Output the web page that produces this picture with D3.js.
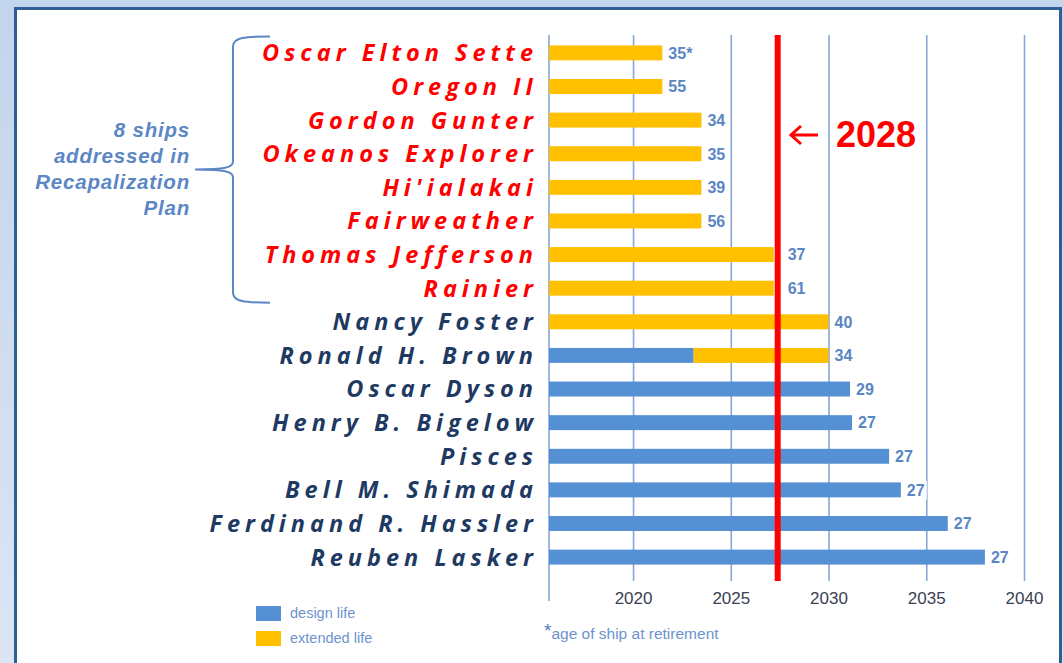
<!DOCTYPE html>
<html>
<head>
<meta charset="utf-8">
<script src="https://cdn.jsdelivr.net/npm/d3@7"></script>
<style>
  body { margin: 0; background: #fff; }
  svg { display: block; }
</style>
</head>
<body>
<div id="chart"></div>
<script>
// Ships, top to bottom
var ships = ["Oscar Elton Sette", "Oregon II", "Gordon Gunter", "Okeanos Explorer",
  "Hi'ialakai", "Fairweather", "Thomas Jefferson", "Rainier", "Nancy Foster",
  "Ronald H. Brown", "Oscar Dyson", "Henry B. Bigelow", "Pisces", "Bell M. Shimada",
  "Ferdinand R. Hassler", "Reuben Lasker"];

// first 8 ships are in the recapitalization plan
var recapCount = 8;

// end year of design life (blue) and extended life (yellow), null = none
var designEnd = [null, null, null, null, null, null, null, null, null,
  2023.1, 2031.1, 2031.2, 2033.1, 2033.7, 2036.1, 2038.0];
var extendedEnd = [2021.5, 2021.5, 2023.5, 2023.5, 2023.5, 2023.5, 2027.2, 2027.2,
  2030.0, 2030.0, null, null, null, null, null, null];

// age of ship at retirement
var ages = ["35*", "55", "34", "35", "39", "56", "37", "61", "40", "34",
  "29", "27", "27", "27", "27", "27"];

var startYear = 2015.7;
var tickYears = [2020, 2025, 2030, 2035, 2040];
var cutoffYear = 2027.4;
var cutoffLabel = "2028";

var noteLines = ["8 ships", "addressed in", "Recapalization", "Plan"];

var W = 1063, H = 663;
var blue = "#5590d5", yellow = "#ffc000", labelBlue = "#5a86c4";

var svg = d3.select("#chart").append("svg")
    .attr("width", W)
    .attr("height", H);

// background frame
var defs = svg.append("defs");
var grad = defs.append("linearGradient").attr("id", "bg")
    .attr("x1", 0).attr("y1", 0).attr("x2", 0).attr("y2", 1);
grad.append("stop").attr("offset", "0%").attr("stop-color", "#c3d4ed");
grad.append("stop").attr("offset", "100%").attr("stop-color", "#dbe5f4");
svg.append("rect").attr("width", W).attr("height", H).attr("fill", "url(#bg)");
svg.append("rect")
    .attr("x", 15.5).attr("y", 8.5)
    .attr("width", 1045).attr("height", 700)
    .attr("fill", "#fff")
    .attr("stroke", "#2f5e95")
    .attr("stroke-width", 3);

// scales
var x = d3.scaleLinear()
    .domain([startYear, 2040])
    .range([549, 1024]);

var y = d3.scaleBand()
    .domain(ships)
    .range([36, 574])
    .paddingInner(0.555)
    .paddingOuter(0.28);

var gridTop = 35, gridBottom = 581;

// gridlines + tick labels
var axis = svg.append("g")
    .attr("transform", "translate(0," + gridBottom + ")")
    .call(d3.axisBottom(x).tickValues(tickYears).tickFormat(d3.format("d"))
      .tickSize(-(gridBottom - gridTop)).tickPadding(11));
axis.select(".domain").remove();
axis.selectAll("line")
    .attr("stroke", "#86a6d6")
    .attr("stroke-width", 1.6);
axis.selectAll("text")
    .attr("fill", "#3a4153")
    .style("font-family", "Liberation Sans, Arial, sans-serif")
    .style("font-size", "17px");

// left axis line
svg.append("line")
    .attr("x1", x(startYear)).attr("x2", x(startYear))
    .attr("y1", gridTop).attr("y2", 601)
    .attr("stroke", "#86a6d6")
    .attr("stroke-width", 1.6);

// bars
var rows = ships.map(function(s, i) {
  return {ship: s, design: designEnd[i], extended: extendedEnd[i], age: ages[i], i: i};
});

svg.selectAll(".design")
    .data(rows.filter(function(d) { return d.design != null; }))
  .enter().append("rect")
    .attr("class", "design")
    .attr("x", x(startYear))
    .attr("y", function(d) { return y(d.ship); })
    .attr("width", function(d) { return x(d.design) - x(startYear); })
    .attr("height", y.bandwidth())
    .attr("fill", blue);

svg.selectAll(".extended")
    .data(rows.filter(function(d) { return d.extended != null; }))
  .enter().append("rect")
    .attr("class", "extended")
    .attr("x", function(d) { return x(d.design != null ? d.design : startYear); })
    .attr("y", function(d) { return y(d.ship); })
    .attr("width", function(d) { return x(d.extended) - x(d.design != null ? d.design : startYear); })
    .attr("height", y.bandwidth())
    .attr("fill", yellow);

// cutoff line
var redW = 6;
svg.append("rect")
    .attr("x", x(cutoffYear) - redW / 2)
    .attr("y", gridTop)
    .attr("width", redW)
    .attr("height", gridBottom - gridTop)
    .attr("fill", "#ff0000");

// age labels with white box behind them
var labels = svg.selectAll(".age")
    .data(rows)
  .enter().append("g")
    .attr("class", "age")
    .attr("transform", function(d) {
      var end = Math.max(d.design || 0, d.extended || 0);
      var px = x(end) + 6;
      if (Math.abs(x(end) - x(cutoffYear)) < redW) px = x(cutoffYear) + redW / 2 + 7;
      return "translate(" + px + "," + (y(d.ship) + y.bandwidth() / 2) + ")";
    });
labels.append("text")
    .attr("dy", "0.36em")
    .attr("fill", labelBlue)
    .style("font-family", "Liberation Sans, Arial, sans-serif")
    .style("font-weight", "bold")
    .style("font-size", "16px")
    .text(function(d) { return d.age; });
labels.each(function() {
  var g = d3.select(this);
  var b = g.select("text").node().getBBox();
  g.insert("rect", "text")
    .attr("x", b.x - 2).attr("y", b.y - 1)
    .attr("width", b.width + 4).attr("height", b.height + 2)
    .attr("fill", "#fff");
});

// ship names
svg.selectAll(".ship")
    .data(rows)
  .enter().append("text")
    .attr("class", "ship")
    .attr("x", 538)
    .attr("y", function(d) { return y(d.ship) + y.bandwidth() / 2; })
    .attr("dy", "0.36em")
    .attr("text-anchor", "end")
    .attr("fill", function(d) { return d.i < recapCount ? "#ff0000" : "#1e3a62"; })
    .style("font-family", "Open Sans, sans-serif")
    .style("font-weight", "bold")
    .style("font-style", "italic")
    .style("font-size", "23.5px")
    .style("letter-spacing", "5px")
    .text(function(d) { return d.ship; });

// brace around the recap ships
var braceTop = y(ships[0]) - 9, braceBot = y(ships[recapCount - 1]) + y.bandwidth() + 7;
var bx = 233, tipY = (braceTop + braceBot) / 2;
svg.append("path")
    .attr("d", "M270," + braceTop + " C245," + braceTop + " " + bx + "," + (braceTop + 1) + " " + bx + "," + (braceTop + 10) +
      " L" + bx + "," + (tipY - 8) + " C" + bx + "," + (tipY - 2) + " 225," + tipY + " 195," + tipY +
      " C225," + tipY + " " + bx + "," + (tipY + 2) + " " + bx + "," + (tipY + 8) +
      " L" + bx + "," + (braceBot - 10) + " C" + bx + "," + (braceBot - 1) + " 245," + braceBot + " 270," + braceBot)
    .attr("fill", "none")
    .attr("stroke", "#5b87c5")
    .attr("stroke-width", 2);

svg.append("g").selectAll("text")
    .data(noteLines)
  .enter().append("text")
    .attr("x", 190)
    .attr("y", function(d, i) { return 137 + i * 26; })
    .attr("text-anchor", "end")
    .attr("fill", "#5b87c5")
    .style("font-family", "Liberation Sans, Arial, sans-serif")
    .style("font-weight", "bold")
    .style("font-style", "italic")
    .style("font-size", "20.5px")
    .style("letter-spacing", "0.8px")
    .text(function(d) { return d; });

// cutoff annotation
svg.append("path")
    .attr("d", "M818,135 L791,135 M801,126 L791,135 L801,144")
    .attr("fill", "none")
    .attr("stroke", "#ff0000")
    .attr("stroke-width", 3);
svg.append("text")
    .attr("x", 836)
    .attr("y", 147)
    .attr("fill", "#ff0000")
    .style("font-family", "Liberation Sans, Arial, sans-serif")
    .style("font-weight", "bold")
    .style("font-size", "36px")
    .text(cutoffLabel);

// legend
var legend = [{name: "design life", color: blue}, {name: "extended life", color: yellow}];
var lg = svg.append("g").selectAll("g")
    .data(legend)
  .enter().append("g")
    .attr("transform", function(d, i) { return "translate(256," + (606 + i * 25) + ")"; });
lg.append("rect")
    .attr("width", 25).attr("height", 15)
    .attr("fill", function(d) { return d.color; });
lg.append("text")
    .attr("x", 34).attr("y", 12)
    .attr("fill", "#6d93cd")
    .style("font-family", "Liberation Sans, Arial, sans-serif")
    .style("font-size", "14.5px")
    .text(function(d) { return d.name; });

// footnote
var note = svg.append("text")
    .attr("x", 544)
    .attr("y", 639)
    .style("font-family", "Liberation Sans, Arial, sans-serif")
    .style("font-size", "15.5px");
note.append("tspan")
    .attr("fill", "#4f7cc0")
    .attr("dy", -2)
    .style("font-size", "19px")
    .text("*");
note.append("tspan")
    .attr("fill", "#6d93cd")
    .attr("dy", 2)
    .text("age of ship at retirement");
</script>
</body>
</html>
